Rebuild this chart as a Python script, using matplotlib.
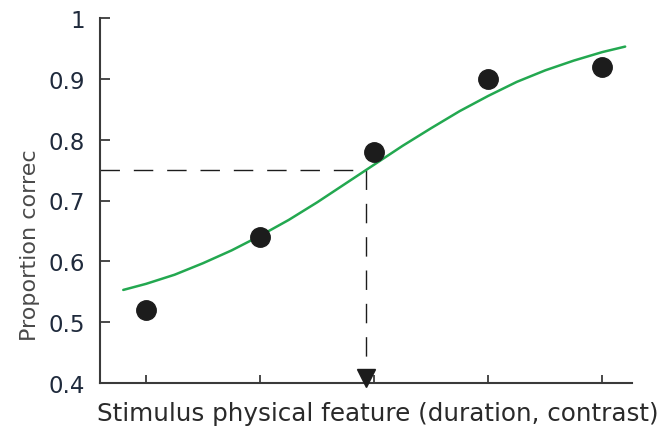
import numpy as np
import matplotlib
matplotlib.use("Agg")
import matplotlib.pyplot as plt

# Data
stim_levels = [1, 2, 3, 4, 5]
prop_correct = [0.52, 0.64, 0.78, 0.90, 0.92]

# psychometric fit, sampled off the green curve
fit_x = [0.8, 1.0, 1.25, 1.5, 1.75, 2.0, 2.25, 2.5, 2.75, 3.0, 3.25,
         3.5, 3.75, 4.0, 4.25, 4.5, 4.75, 5.0, 5.2]
fit_y = [0.553, 0.563, 0.578, 0.597, 0.618, 0.642, 0.668, 0.697, 0.728, 0.759,
         0.790, 0.819, 0.847, 0.872, 0.895, 0.914, 0.930, 0.944, 0.953]

threshold_x = 2.93
threshold_y = 0.75

y_ticks = [0.4, 0.5, 0.6, 0.7, 0.8, 0.9, 1.0]
y_ticklabels = ["0.4", "0.5", "0.6", "0.7", "0.8", "0.9", "1"]

GREEN = "#23a850"
DARK = "#1c1c1c"
TICKCOL = "#1f2a3c"
AXCOL = "#3a3a3a"

fig = plt.figure(figsize=(6.62, 4.35), dpi=100)
ax = fig.add_axes([100 / 662, 1 - 384 / 435, 532 / 662, 365 / 435])

# fitted curve
ax.plot(fit_x, fit_y, color=GREEN, lw=1.8, zorder=2, solid_capstyle="round")

# threshold guides
ax.plot([0.596, threshold_x], [threshold_y, threshold_y], color=DARK, lw=1.0,
        dashes=(14, 10), zorder=1)
ax.plot([threshold_x, threshold_x], [threshold_y, 0.4], color=DARK, lw=1.0,
        dashes=(14, 10), zorder=1)
ax.plot([threshold_x], [0.409], marker="v", markersize=13, color=DARK,
        clip_on=False, zorder=4)

# data points
ax.plot(stim_levels, prop_correct, "o", markersize=14, color=DARK, zorder=3)

ax.set_xlim(0.596, 5.26)
ax.set_ylim(0.4, 1.0)
ax.set_xticks(stim_levels)
ax.set_xticklabels([])
ax.set_yticks(y_ticks)
ax.set_yticklabels(y_ticklabels, fontsize=16.5, color=TICKCOL)

ax.tick_params(axis="y", direction="in", length=7, width=1.3, color=AXCOL, pad=11)
ax.tick_params(axis="x", direction="in", length=6, width=1.3, color=AXCOL)

ax.spines["right"].set_visible(False)
ax.spines["top"].set_visible(False)
ax.spines["left"].set_color(AXCOL)
ax.spines["bottom"].set_color(AXCOL)
ax.spines["left"].set_linewidth(1.5)
ax.spines["bottom"].set_linewidth(1.5)

fig.text(30 / 662, 1 - 245 / 435, "Proportion correc", rotation=90,
         fontsize=16, color="#4a4a4a", ha="center", va="center")
fig.text(97 / 662, 1 - 414 / 435, "Stimulus physical feature (duration, contrast)",
         fontsize=17.7, color="#2a2a2a", ha="left", va="center")

fig.savefig("out.png", dpi=100)
